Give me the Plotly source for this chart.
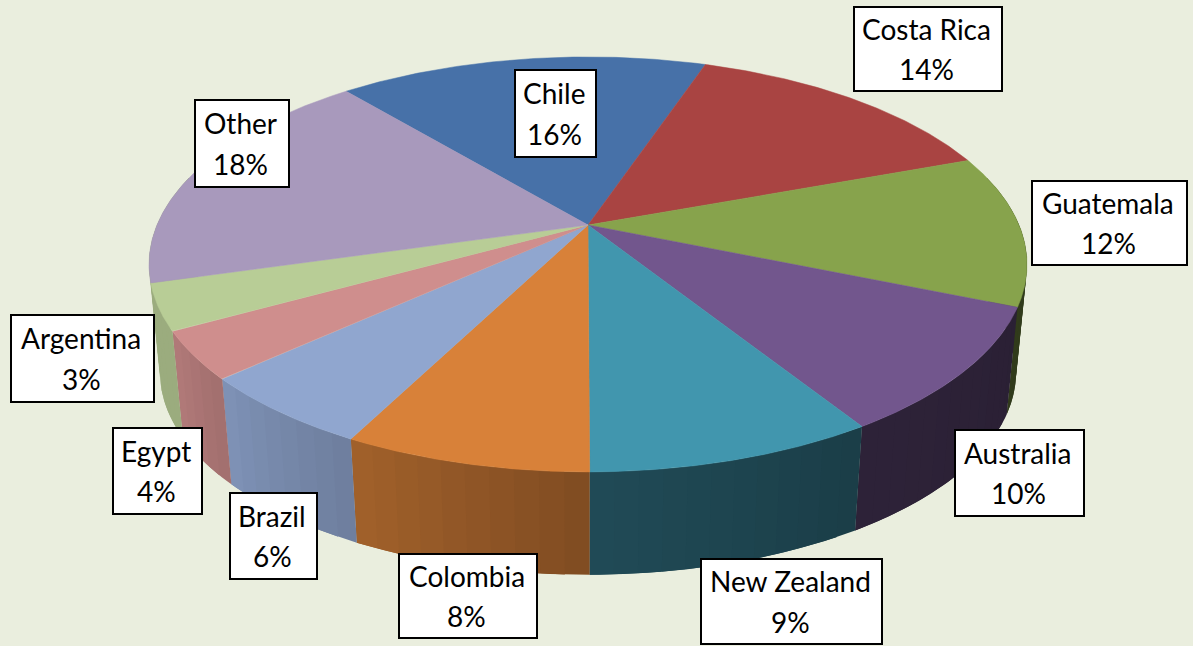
import numpy as np
import plotly.graph_objects as go

# ---- data ----
countries = ["Chile", "Costa Rica", "Guatemala", "Australia", "New Zealand",
             "Colombia", "Brazil", "Egypt", "Argentina", "Other"]
# percentages printed on the labels
label_pct = [16, 14, 12, 10, 9, 8, 6, 4, 3, 18]
slice_size = [16.3, 14.2, 11.8, 9.8, 8.9, 7.6, 5.7, 3.7, 3.6, 18.3]

# ---- styles ----
top_colors = ["#4771A8", "#A94442", "#87A34C", "#72568D", "#4196AE",
              "#D88139", "#90A6CF", "#CF8E8D", "#B8CD96", "#A899BC"]
# wall colours: the sliver of "Other" on the silhouette reads as Argentina's green
wall_colors = top_colors[:-1] + ["#B8CD96"]
# brightness of the side wall at the slice's left and right end
side_left = [0.8, 0.8, 0.36, 0.40, 0.50, 0.75, 0.88, 0.86, 0.84, 0.84]
side_right = [0.8, 0.8, 0.40, 0.37, 0.41, 0.59, 0.76, 0.78, 0.84, 0.84]
# label boxes: left, right, top, bottom
boxes = [(515, 596, 70, 157), (854, 1002, 7, 91), (1032, 1187, 181, 265),
         (955, 1084, 430, 516), (701, 882, 559, 644), (399, 537, 554, 638),
         (230, 317, 493, 579), (113, 202, 428, 514), (11, 154, 315, 402),
         (195, 289, 100, 187)]
BG = "#EAEEDE"
FONT = "Lato"
FONT_SIZE = 28

# projection of the disc (perspective)
CX, CY = 588.0, 225.0
A, B, K = 431.0, 200.0, 0.19
BOTTOM_CY, BOTTOM_SCALE = 334.0, 0.975
START_DEG = -40.0


def top_pt(theta):
    u, v = np.sin(theta), np.cos(theta)
    d = 1 + K * v
    return CX + A * u / d, CY - B * v / d


def bottom_pt(theta):
    u, v = np.sin(theta), np.cos(theta)
    d = 1 + K * v
    return CX + BOTTOM_SCALE * A * u / d, BOTTOM_CY - BOTTOM_SCALE * B * v / d


def shade(hex_color, f):
    r, g, b = [int(hex_color[i:i + 2], 16) for i in (1, 3, 5)]
    return f"rgb({r * f:.0f},{g * f:.0f},{b * f:.0f})"


total = sum(slice_size)
edges = np.radians(START_DEG + np.cumsum([0] + slice_size) * 360.0 / total)

fig = go.Figure()

# side walls, split into strips; each strip runs under the next so no seams show
LO, HI = np.pi / 2 - 0.25, 3 * np.pi / 2 + 0.25
for i in range(len(slice_size)):
    lo, hi = max(edges[i], LO), min(edges[i + 1], HI)
    if hi <= lo:
        continue
    steps = max(4, int((hi - lo) / np.radians(2.5)))
    cuts = np.linspace(lo, hi, steps + 1)
    for j in range(steps):
        t = np.linspace(cuts[j], cuts[min(j + 2, steps)], 6)
        xt, yt = top_pt(t)
        xb, yb = bottom_pt(t[::-1])
        f = side_right[i] + (side_left[i] - side_right[i]) * (j + 0.5) / steps
        fig.add_trace(go.Scatter(
            x=np.r_[xt, xb], y=np.r_[yt, yb], mode="lines", fill="toself",
            fillcolor=shade(wall_colors[i], f), line=dict(width=0),
            hoverinfo="skip", showlegend=False))

# top faces
for i, name in enumerate(countries):
    t = np.linspace(edges[i], edges[i + 1], 120)
    xt, yt = top_pt(t)
    fig.add_trace(go.Scatter(
        x=np.r_[CX, xt, CX], y=np.r_[CY, yt, CY], mode="lines", fill="toself",
        fillcolor=top_colors[i], line=dict(color=top_colors[i], width=0.5),
        name=name, text=f"{name} {label_pct[i]}%", hoverinfo="text",
        showlegend=False))

# labels
shapes, annotations = [], []
for name, pct, (x0, x1, y0, y1) in zip(countries, label_pct, boxes):
    shapes.append(dict(type="rect", x0=x0, x1=x1, y0=y0, y1=y1, xref="x", yref="y",
                       fillcolor="white", line=dict(color="black", width=2)))
    xc, yc = (x0 + x1) / 2 - 1.5, (y0 + y1) / 2
    for txt, dy in ((name, -20.5), (f"{pct}%", 20)):
        annotations.append(dict(x=xc, y=yc + dy, xref="x", yref="y", text=txt,
                                showarrow=False, xanchor="center", yanchor="middle",
                                font=dict(family=FONT, size=FONT_SIZE, color="black")))

fig.update_layout(
    width=1193, height=646, margin=dict(l=0, r=0, t=0, b=0),
    paper_bgcolor=BG, plot_bgcolor=BG, showlegend=False,
    xaxis=dict(range=[0, 1193], visible=False, fixedrange=True),
    yaxis=dict(range=[646, 0], visible=False, fixedrange=True),
    shapes=shapes, annotations=annotations,
)
fig.write_html("out.html", config=dict(displayModeBar=False),
               post_script="document.body.style.margin='0';document.body.style.overflow='hidden';")
